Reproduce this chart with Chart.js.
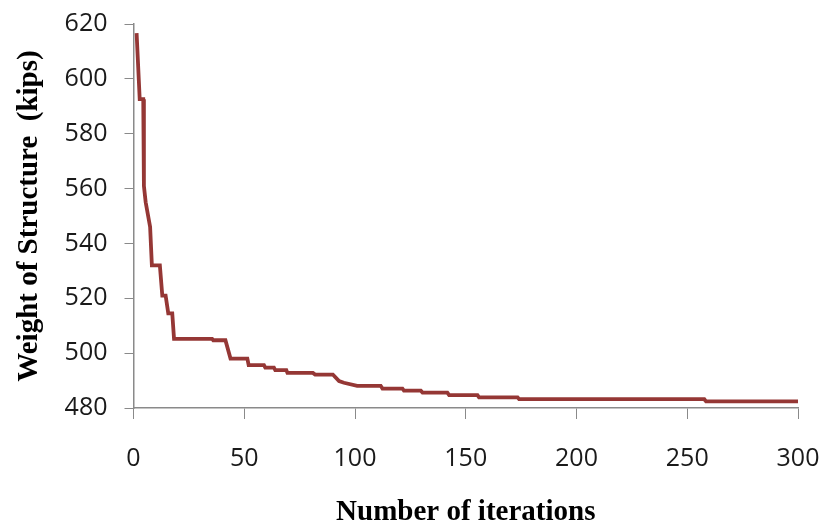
<!DOCTYPE html>
<html>
<head>
<meta charset="utf-8">
<script src="https://cdn.jsdelivr.net/npm/chart.js@4/dist/chart.umd.min.js"></script>
<style>
  html, body { margin: 0; padding: 0; background: #ffffff; }
  #wrap { width: 826px; height: 524px; position: relative; }
</style>
</head>
<body>
<div id="wrap"><canvas id="c" width="826" height="524"></canvas></div>
<script>
const iterations = [1.4, 2.8, 4.4, 4.7, 5.5, 7.5, 8.3, 11.9, 13, 14.5, 15.7, 17.5, 18.3, 35.5, 36, 41.5, 43.8, 51.4, 52, 58.9, 59.5, 63.4, 64, 69, 69.5, 81, 82, 90, 92.8, 95, 101, 111.6, 112.4, 121.4, 122.1, 129.7, 130.5, 141.7, 142.5, 155.3, 156, 173.4, 174.1, 257.7, 258.5, 300];
const weights = [616.7, 592.6, 592.6, 561, 555, 546, 532, 532, 521, 521, 514.5, 514.5, 505.2, 505.2, 504.7, 504.7, 498, 498, 495.6, 495.6, 494.7, 494.7, 493.8, 493.8, 492.8, 492.8, 492.2, 492.2, 489.8, 489.2, 488.1, 488.1, 487.1, 487.1, 486.3, 486.3, 485.6, 485.6, 484.7, 484.7, 483.9, 483.9, 483.2, 483.2, 482.4, 482.4];
const xTicks = [0, 50, 100, 150, 200, 250, 300];
const yTicks = [480, 500, 520, 540, 560, 580, 600, 620];
const xTitle = 'Number of iterations';
const yTitle = 'Weight of Structure  (kips)';

const points = iterations.map((x, i) => ({ x: x, y: weights[i] }));
const axisColor = '#8a8a8a';
const tickFont = { family: '"Open Sans", "Liberation Sans", sans-serif', size: 25 };
const titleFont = { family: '"Liberation Serif", "Times New Roman", serif', size: 29, weight: 'bold', lineHeight: 0.8 };

new Chart(document.getElementById('c'), {
  type: 'line',
  data: {
    datasets: [{
      data: points,
      borderColor: '#953735',
      borderWidth: 3.8,
      pointRadius: 0,
      tension: 0,
      fill: false
    }]
  },
  options: {
    responsive: false,
    animation: false,
    devicePixelRatio: 1,
    layout: { padding: 0 },
    plugins: { legend: { display: false }, tooltip: { enabled: false } },
    scales: {
      x: {
        type: 'linear',
        min: 0, max: 300,
        afterBuildTicks: (s) => { s.ticks = xTicks.map(v => ({ value: v })); },
        afterFit: (s) => { s.height = 116; s.paddingLeft = 0; s.paddingRight = 28; },
        grid: { drawOnChartArea: false, drawTicks: true, tickLength: 11, color: axisColor, lineWidth: 1 },
        border: { display: true, color: axisColor, width: 1.5 },
        ticks: { font: tickFont, color: '#1a1a1a', padding: 25, maxRotation: 0 },
        title: { display: true, text: xTitle, font: titleFont, color: '#000', padding: { top: 0, bottom: 0 } }
      },
      y: {
        min: 480, max: 620,
        afterBuildTicks: (s) => { s.ticks = yTicks.map(v => ({ value: v })); },
        afterFit: (s) => { s.width = 133.5; s.paddingTop = 24; s.paddingBottom = 0; },
        grid: { drawOnChartArea: false, drawTicks: true, tickLength: 9, color: axisColor, lineWidth: 1 },
        border: { display: true, color: axisColor, width: 1.5 },
        ticks: { font: tickFont, color: '#1a1a1a', padding: 17 },
        title: { display: true, text: yTitle, font: { family: titleFont.family, size: 29, weight: 'bold', lineHeight: 1 }, color: '#000', padding: { top: 15, bottom: 0 } }
      }
    }
  }
});
</script>
</body>
</html>
